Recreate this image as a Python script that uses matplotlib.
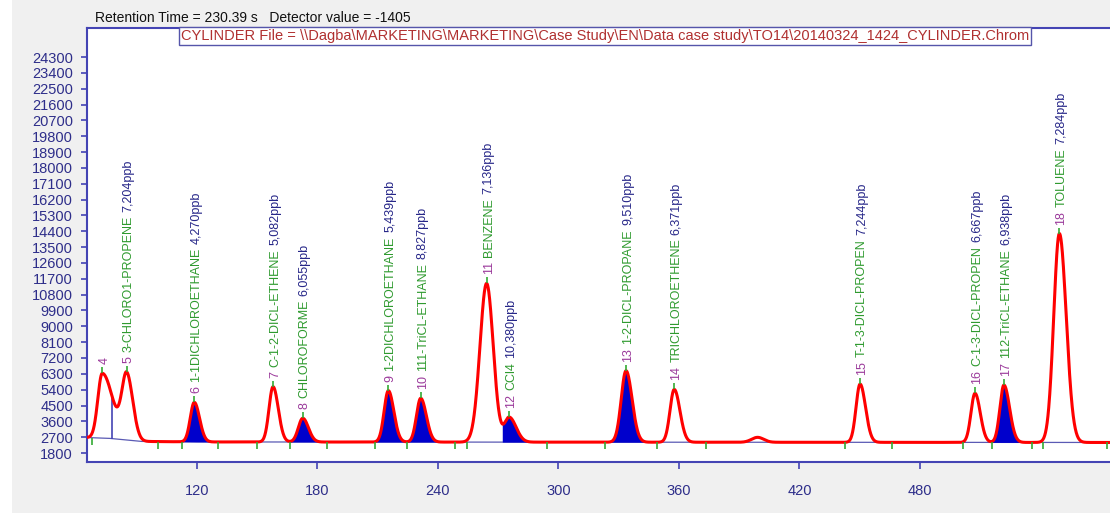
import numpy as np
import matplotlib
matplotlib.use("Agg")
import matplotlib.pyplot as plt
from matplotlib import transforms
from matplotlib.patches import Rectangle

# peak table
peak_num = [4, 5, 6, 7, 8, 9, 10, 11, 12, 13, 14, 15, 16, 17, 18]
peak_time = [73.0, 85.2, 118.8, 158.0, 172.8, 215.4, 231.5, 264.3, 275.6,
             333.7, 357.7, 450.2, 507.4, 521.8, 549.4]
peak_height = [3680, 3640, 2250, 3140, 1350, 2920, 2490, 9020, 1400,
               4060, 3000, 3310, 2790, 3260, 11870]
sigma_left = [2.2, 2.4, 2.0, 2.0, 2.2, 2.1, 2.1, 3.3, 2.4,
              2.4, 2.1, 2.0, 2.0, 2.0, 2.8]
sigma_right = [5.2, 3.0, 2.6, 2.6, 2.8, 2.7, 2.8, 3.3, 3.4,
               3.0, 2.8, 2.7, 2.6, 2.8, 3.4]
names = ["", "3-CHLORO1-PROPENE", "1-1DICHLOROETHANE", "C-1-2-DICL-ETHENE",
         "CHLOROFORME", "1-2DICHLOROETHANE", "111-TriCL-ETHANE", "BENZENE",
         "CCl4", "1-2-DICL-PROPANE", "TRICHLOROETHENE", "T-1-3-DICL-PROPEN",
         "C-1-3-DICL-PROPEN", "112-TriCL-ETHANE", "TOLUENE"]
amounts = ["", "7,204ppb", "4,270ppb", "5,082ppb", "6,055ppb", "5,439ppb",
           "8,827ppb", "7,136ppb", "10,380ppb", "9,510ppb", "6,371ppb",
           "7,244ppb", "6,667ppb", "6,938ppb", "7,284ppb"]

# small unlabeled bump
bump_time, bump_height, bump_sigma = 399.2, 280, 3.0

# baseline drift
base_t = [65.4, 76, 92, 120, 574.6]
base_v = [2680, 2640, 2460, 2430, 2400]

# integrated (filled) peaks: start / end times
fill_start = [112.7, 166.4, 208.7, 224.6, 272.0, 323.2, 515.9]
fill_end = [130.6, 184.9, 224.6, 248.5, 294.4, 349.1, 535.8]

# integration marks on the baseline
int_marks = [67.9, 100.7, 112.7, 130.6, 150.0, 166.4, 184.9, 208.7, 224.6,
             248.5, 254.5, 294.4, 323.2, 349.1, 373.5, 442.7, 466.1, 501.5,
             515.9, 535.8, 541.3, 573.2]
drop_time = 78.0

yticks = list(range(1800, 24301, 900))
xticks = [120, 180, 240, 300, 360, 420, 480]

# build trace
t = np.arange(65.4, 574.7, 0.1)
base = np.interp(t, base_t, base_v)
signal = base.copy()
for tp, h, sl, sr in zip(peak_time, peak_height, sigma_left, sigma_right):
    s = np.where(t < tp, sl, sr)
    signal += h * np.exp(-0.5 * ((t - tp) / s) ** 2)
signal += bump_height * np.exp(-0.5 * ((t - bump_time) / bump_sigma) ** 2)

W, H = 1110, 513
fig = plt.figure(figsize=(W / 100, H / 100), dpi=100, facecolor="#f0f0f0")
fig.patches.append(Rectangle((0, 0), 12 / W, 1, transform=fig.transFigure,
                             facecolor="white", edgecolor="none", zorder=0))
ax = fig.add_axes([87 / W, 51 / H, 1 - 87 / W, 434 / H])
ax.set_facecolor("white")

spine_col = "#4444b4"
tick_col = "#2e2e8a"
for side in ["left", "top", "bottom"]:
    ax.spines[side].set_color(spine_col)
    ax.spines[side].set_linewidth(1.5)
ax.spines["right"].set_visible(False)

ax.set_xlim(65.4, 574.6)
ax.set_ylim(1290, 25950)
ax.set_yticks(yticks)
ax.set_xticks(xticks)
ax.tick_params(axis="y", colors=spine_col, labelcolor=tick_col, length=4,
               width=1.2, pad=6, labelsize=10.5)
ax.tick_params(axis="x", colors=spine_col, labelcolor=tick_col, length=5,
               width=1.2, pad=10.5, labelsize=10.5)
for lab in ax.get_xticklabels() + ax.get_yticklabels():
    lab.set_family("Liberation Sans")

# baseline, fills, trace
ax.plot(t, base, color="#5a5ab4", lw=0.9, zorder=2)
for a, b in zip(fill_start, fill_end):
    m = (t >= a) & (t <= b)
    ax.fill_between(t[m], base[m], signal[m], color="#0000cc", lw=0, zorder=3)
ax.vlines(drop_time, np.interp(drop_time, t, base), np.interp(drop_time, t, signal),
          color="#4444b4", lw=1.2, zorder=3)
ax.plot(t, signal, color="#ff0000", lw=2.2, zorder=4)
ax.plot(int_marks, np.interp(int_marks, t, base), ls="none", marker=3,
        markersize=5, color="#33aa33", mew=1.2, zorder=5)
apex = np.interp(peak_time, t, signal)
ax.plot(peak_time, apex, ls="none", marker=2, markersize=4, color="#33aa33",
        mew=1.2, zorder=5)

# peak labels: number, name, amount stacked vertically
fig.canvas.draw()
r = fig.canvas.get_renderer()
lab_font = ["Liberation Sans Narrow", "Liberation Sans"]
for tp, ap, n, nm, am in zip(peak_time, apex, peak_num, names, amounts):
    y_off = 9
    for txt, col in [(str(n), "#9b3a9b"), (nm, "#2e9a2e"), (am, "#262688")]:
        if not txt:
            continue
        tr = transforms.offset_copy(ax.transData, fig=fig, x=2, y=y_off, units="dots")
        tx = ax.text(tp, ap, txt, color=col, rotation=90, ha="center", va="bottom",
                     transform=tr, fontsize=9, family=lab_font, zorder=6)
        bb = tx.get_window_extent(r)
        y_off += bb.height + 4

# header texts
fig.text(95 / W, 1 - 18 / H, "Retention Time = 230.39 s   Detector value = -1405",
         fontsize=10, family="Liberation Sans", color="#111111", va="center", ha="left")
fig.text(605 / W, 1 - 36 / H,
         r"CYLINDER File = \\Dagba\MARKETING\MARKETING\Case Study\EN\Data case study\TO14\20140324_1424_CYLINDER.Chrom",
         fontsize=10.5, family="Liberation Sans", color="#b03030", va="center", ha="center",
         bbox=dict(boxstyle="square,pad=0.12", facecolor="white", edgecolor="#5555aa", lw=1))

fig.savefig("out.png", dpi=100, facecolor=fig.get_facecolor())
